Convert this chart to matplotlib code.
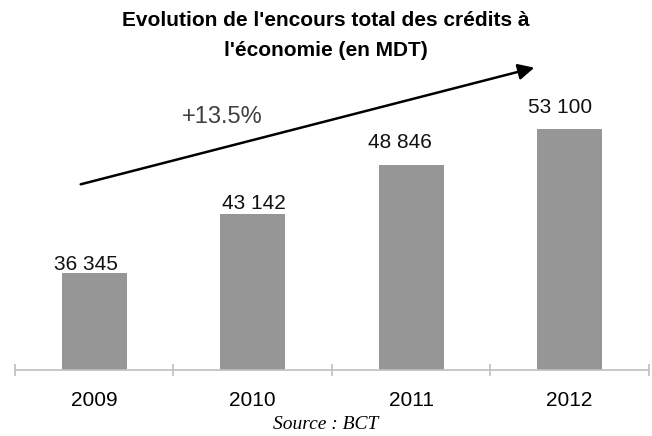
import matplotlib.pyplot as plt
import numpy as np

# données
annees = ['2009', '2010', '2011', '2012']
encours = [36345, 43142, 48846, 53100]
etiquettes = ['36 345', '43 142', '48 846', '53 100']
croissance = '+13.5%'

# décalage manuel des étiquettes (pixels), comme dans l'original
decal_x = [-8, 1, -11, -9]
decal_y = [3, 5, 17, 16]

plt.rcParams['font.family'] = ['Liberation Sans', 'DejaVu Sans']

fig = plt.figure(figsize=(6.52, 4.36), dpi=100)
ax = fig.add_axes([0.023, 0.151, 0.972, 0.69])

x = np.arange(len(annees))
bars = ax.bar(x, encours, width=0.41, color='#969696', zorder=2)
ax.set_xlim(-0.5, 3.5)
ax.set_ylim(25000, 60000)

px = 72 / fig.dpi
for xi, v, lab, dx, dy in zip(x, encours, etiquettes, decal_x, decal_y):
    ax.annotate(lab, (xi, v), xytext=(dx * px, dy * px), textcoords='offset points',
                ha='center', va='baseline', fontsize=15, color='#111111')

# axes
for s in ['top', 'right', 'left']:
    ax.spines[s].set_visible(False)
ax.spines['bottom'].set_color('#bfbfbf')
ax.spines['bottom'].set_linewidth(1.2)
ax.set_yticks([])
ax.set_xticks(x)
ax.set_xticklabels(annees, fontsize=15)
ax.tick_params(axis='x', which='major', length=0, pad=15)
ax.set_xticks(np.arange(-0.5, 4.0, 1.0), minor=True)
ax.tick_params(axis='x', which='minor', direction='inout', length=9,
               color='#bfbfbf', width=1.2)

# titre
fig.text(0.5, 1 - 20 / 436, "Evolution de l'encours total des crédits à",
         ha='center', va='center', fontsize=15, fontweight='bold')
fig.text(0.5, 1 - 51 / 436, "l'économie (en MDT)",
         ha='center', va='center', fontsize=15, fontweight='bold')

# flèche de tendance
fig.add_artist(plt.matplotlib.patches.FancyArrowPatch(
    (78 / 652, 1 - 185 / 436), (537 / 652, 1 - 67 / 436),
    transform=fig.transFigure, arrowstyle='-|>', mutation_scale=24,
    color='black', linewidth=1.8))
fig.text(222 / 652, 1 - 117 / 436, croissance, ha='center', va='center',
         fontsize=17, color='#404040')

# source
fig.text(0.5, 1 - 424 / 436, 'Source : BCT', ha='center', va='center',
         fontsize=14, style='italic', family=['Liberation Serif', 'DejaVu Serif'])

plt.savefig('out.png', dpi=100)
